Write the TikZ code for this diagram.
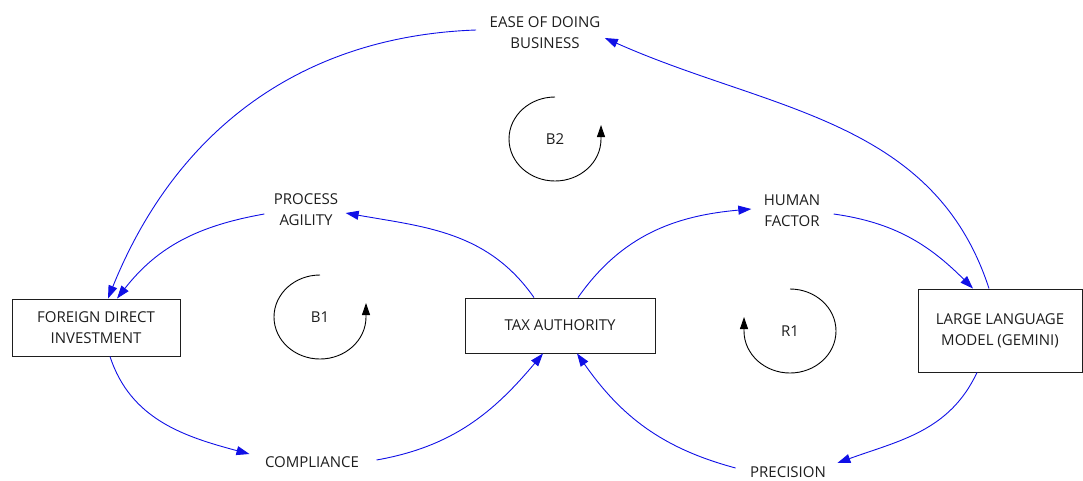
\documentclass[tikz,border=0pt]{standalone}
\usepackage{fontspec}
\setmainfont{Open Sans}
\usepackage{tikz}
\usetikzlibrary{arrows.meta,positioning,calc}
\definecolor{cldBlue}{HTML}{1010E6}
\definecolor{cldInk}{HTML}{1E1E1E}
\newcommand{\cldfont}{\fontsize{15}{21}\selectfont}
\tikzset{
  varbox/.style ={draw=cldInk, line width=0.9pt, fill=white,
                  align=center, font=\cldfont, text=cldInk},
  vartext/.style={align=center, font=\cldfont, text=cldInk},
  link/.style   ={draw=cldBlue, line width=0.9pt,
                  -{Triangle[length=13pt,width=9pt]}},
  loopline/.style={draw=black, line width=0.9pt,
                  -{Triangle[length=12pt,width=8pt]}},
}
\newcommand{\loopsign}[5]{%
  % #1 centre, #2 name, #3 label, #4 start angle, #5 end angle
  \draw[loopline] ($#1+({46*cos(#4)},{42*sin(#4)})$)
    arc[start angle=#4, end angle=#5, x radius=46, y radius=42]
    -- ++(0,14);
  \node[vartext] (#2) at #1 {#3};
}

\begin{document}
\begin{tikzpicture}[x=1pt,y=1pt]
\useasboundingbox (0,0) rectangle (1083,-480);

% --- stocks -----------------------------------------------------------------
\node[varbox, minimum width=168pt, minimum height=57pt] (fdi)
  at (96,-327.5) {FOREIGN DIRECT\\INVESTMENT};
\node[varbox, minimum width=190pt, minimum height=55pt] (tax)
  at (560,-325.5) {TAX AUTHORITY};
\node[varbox, minimum width=164pt, minimum height=83pt] (llm)
  at (1000,-330.5) {LARGE LANGUAGE\\MODEL (GEMINI)};

% --- auxiliary variables ----------------------------------------------------
\node[vartext] (ease)       at (545,-33)  {EASE OF DOING\\BUSINESS};
\node[vartext] (agility)    at (306,-210) {PROCESS\\AGILITY};
\node[vartext] (human)      at (792,-211) {HUMAN\\FACTOR};
\node[vartext] (compliance) at (312,-462) {COMPLIANCE};
\node[vartext] (precision)  at (788,-472) {PRECISION};

% --- causal links -----------------------------------------------------------
\draw[link] ([xshift=-26pt]tax.north) to[out=125,in=-10]
  ([xshift=4pt,yshift=-3pt]agility.east);
\draw[link] ([xshift=-6pt,yshift=-4pt]agility.west) to[out=190,in=52]
  ([xshift=21pt]fdi.north);
\draw[link] ([xshift=-10pt,yshift=3pt]ease.west) to[out=182,in=68]
  ([xshift=12pt]fdi.north);
\draw[link] ([xshift=-11pt]llm.north) to[out=108,in=-24]
  ([xshift=1pt,yshift=-5pt]ease.east);
\draw[link] ([xshift=10pt,yshift=-3pt]human.east) to[out=-8,in=135]
  ([xshift=-27pt]llm.north);
\draw[link] ([xshift=18pt]tax.north) to[out=55,in=185]
  ([xshift=-9pt,yshift=2pt]human.west);
\draw[link] ([xshift=14pt]fdi.south) to[out=-72,in=165]
  ([xshift=-12pt,yshift=8pt]compliance.west);
\draw[link] ([xshift=14pt,yshift=2pt]compliance.east) to[out=10,in=-130]
  ([xshift=-17pt]tax.south);
\draw[link] ([xshift=-23pt]llm.south) to[out=-115,in=20]
  ([xshift=8pt,yshift=9pt]precision.east);
\draw[link] ([xshift=-11pt,yshift=4pt]precision.west) to[out=165,in=-55]
  ([xshift=17pt]tax.south);

% --- loop markers -----------------------------------------------------------
\loopsign{(555,-139)}{b2}{B2}{90}{360}
\loopsign{(320,-317)}{b1}{B1}{90}{360}
\loopsign{(790,-331)}{r1}{R1}{90}{-180}

\end{tikzpicture}
\end{document}
